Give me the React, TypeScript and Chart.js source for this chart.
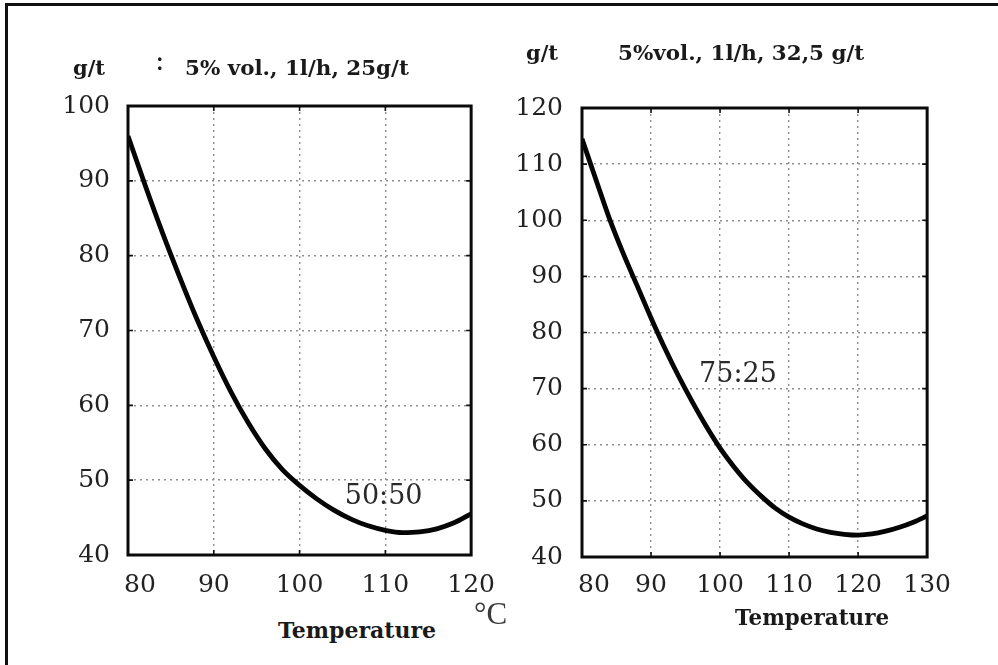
import React, { useEffect, useRef } from "react";
import { Chart, registerables } from "chart.js";

Chart.register(...registerables);

// ---- data ----
const leftTemps = [80, 82, 84, 86, 88, 90, 92, 94, 96, 98, 100, 102, 104, 106, 108, 110, 112, 114, 116, 118, 120];
const leftValues = [96, 89.4, 83.1, 77.2, 71.6, 66.5, 61.8, 57.7, 54.2, 51.4, 49.3, 47.5, 46, 44.8, 43.9, 43.3, 43, 43.1, 43.5, 44.3, 45.5];
const rightTemps = [80, 82, 84, 86, 88, 90, 92, 94, 96, 98, 100, 102, 104, 106, 108, 110, 112, 114, 116, 118, 120, 122, 124, 126, 128, 130];
const rightValues = [114.5, 107.3, 100.2, 94, 88.3, 82.6, 77.2, 72.2, 67.6, 63.3, 59.4, 56.1, 53.2, 50.8, 48.7, 47.1, 45.9, 45, 44.4, 44.05, 43.9, 44.1, 44.6, 45.3, 46.2, 47.3];
const leftXTicks = [80, 90, 100, 110, 120];
const leftYTicks = [40, 50, 60, 70, 80, 90, 100];
const rightXTicks = [80, 90, 100, 110, 120, 130];
const rightYTicks = [40, 50, 60, 70, 80, 90, 100, 110, 120];
const leftRatio = "50:50";
const rightRatio = "75:25";
const leftRatioAt = { x: 109.8, y: 47.8 };
const rightRatioAt = { x: 102.6, y: 72.5 };
const unitLabel = "g/t";
const leftTitle = "5% vol., 1l/h, 25g/t";
const rightTitle = "5%vol., 1l/h, 32,5 g/t";
const axisTitle = "Temperature";
const degLabel = "°C";

type Cfg = {
  temps: number[];
  values: number[];
  xTicks: number[];
  yTicks: number[];
  ratio: string;
  ratioAt: { x: number; y: number };
  yWidth: number;
  xHeight: number;
  padTop: number;
  padRight: number;
  yPad: number;
  xPad: number;
};

function makeChart(canvas: HTMLCanvasElement, c: Cfg) {
  const frame = {
    id: "frame",
    afterDraw(chart: any) {
      const { ctx, chartArea: a, scales } = chart;
      ctx.save();
      ctx.strokeStyle = "#111";
      ctx.lineWidth = 1.6;
      ctx.beginPath();
      for (const v of c.xTicks) {
        const px = scales.x.getPixelForValue(v);
        ctx.moveTo(px, a.top);
        ctx.lineTo(px, a.top + 5);
        ctx.moveTo(px, a.bottom);
        ctx.lineTo(px, a.bottom - 5);
      }
      for (const v of c.yTicks) {
        const py = scales.y.getPixelForValue(v);
        ctx.moveTo(a.left, py);
        ctx.lineTo(a.left + 5, py);
        ctx.moveTo(a.right, py);
        ctx.lineTo(a.right - 5, py);
      }
      ctx.stroke();
      ctx.lineWidth = 3;
      ctx.strokeStyle = "#0a0a0a";
      ctx.strokeRect(a.left, a.top, a.right - a.left, a.bottom - a.top);
      ctx.restore();
    },
    afterDatasetsDraw(chart: any) {
      const { ctx, scales } = chart;
      ctx.save();
      ctx.font = "27px 'DejaVu Serif'";
      ctx.fillStyle = "#2a2a2a";
      ctx.textAlign = "center";
      ctx.textBaseline = "middle";
      ctx.fillText(c.ratio, scales.x.getPixelForValue(c.ratioAt.x), scales.y.getPixelForValue(c.ratioAt.y));
      ctx.restore();
    },
  };

  const tickFont = { family: "'DejaVu Serif'", size: 25 };
  return new Chart(canvas, {
    type: "line",
    data: {
      datasets: [
        {
          data: c.temps.map((t, i) => ({ x: t, y: c.values[i] })),
          borderColor: "#050505",
          borderWidth: 4.8,
          pointRadius: 0,
          cubicInterpolationMode: "monotone",
          fill: false,
        },
      ],
    },
    options: {
      animation: false,
      responsive: false,
      devicePixelRatio: 1,
      layout: { padding: { top: c.padTop, right: c.padRight, left: 0, bottom: 0 } },
      plugins: { legend: { display: false }, tooltip: { enabled: false } },
      scales: {
        x: {
          type: "linear",
          min: c.xTicks[0],
          max: c.xTicks[c.xTicks.length - 1],
          afterBuildTicks: (s: any) => {
            s.ticks = c.xTicks.map((v) => ({ value: v }));
          },
          afterFit: (s: any) => {
            s.height = c.xHeight;
          },
          ticks: {
            font: tickFont,
            color: "#222",
            padding: c.xPad,
            maxRotation: 0,
            autoSkip: false,
            callback: (v: any) => (v === c.xTicks[0] ? "   " + v : String(v)),
          },
          grid: { color: "#8f8f8f", lineWidth: 1.4, drawTicks: false },
          border: { display: false, dash: [2, 4] },
        },
        y: {
          type: "linear",
          min: c.yTicks[0],
          max: c.yTicks[c.yTicks.length - 1],
          afterBuildTicks: (s: any) => {
            s.ticks = c.yTicks.map((v) => ({ value: v }));
          },
          afterFit: (s: any) => {
            s.width = c.yWidth;
          },
          ticks: { font: tickFont, color: "#222", padding: c.yPad, autoSkip: false },
          grid: { color: "#8f8f8f", lineWidth: 1.4, drawTicks: false },
          border: { display: false, dash: [2, 4] },
        },
      },
    },
    plugins: [frame],
  } as any);
}

const bold: React.CSSProperties = {
  position: "absolute",
  fontFamily: "'DejaVu Serif', serif",
  fontWeight: 700,
  fontSize: 21,
  lineHeight: "21px",
  color: "#1a1a1a",
  whiteSpace: "nowrap",
  transformOrigin: "left top",
};

export default function App() {
  const leftRef = useRef<HTMLCanvasElement>(null);
  const rightRef = useRef<HTMLCanvasElement>(null);

  useEffect(() => {
    const l = makeChart(leftRef.current!, {
      temps: leftTemps,
      values: leftValues,
      xTicks: leftXTicks,
      yTicks: leftYTicks,
      ratio: leftRatio,
      ratioAt: leftRatioAt,
      yWidth: 98,
      xHeight: 55,
      padTop: 16,
      padRight: 30,
      yPad: 18,
      xPad: 15,
    });
    const r = makeChart(rightRef.current!, {
      temps: rightTemps,
      values: rightValues,
      xTicks: rightXTicks,
      yTicks: rightYTicks,
      ratio: rightRatio,
      ratioAt: rightRatioAt,
      yWidth: 82,
      xHeight: 52,
      padTop: 18,
      padRight: 34,
      yPad: 19,
      xPad: 13,
    });
    return () => {
      l.destroy();
      r.destroy();
    };
  }, []);

  return (
    <div style={{ position: "fixed", left: 0, top: 0, width: 998, height: 665, background: "#fff", overflow: "hidden" }}>
      <div style={{ position: "absolute", left: 5, top: 3, width: 1100, height: 700, borderLeft: "3px solid #111", borderTop: "3px solid #111" }} />
      <canvas ref={leftRef} width={480} height={537} style={{ position: "absolute", left: 30, top: 73 }} />
      <canvas ref={rightRef} width={464} height={535} style={{ position: "absolute", left: 500, top: 74 }} />
      <div style={{ ...bold, left: 73, top: 57 }}>{unitLabel}</div>
      <div style={{ ...bold, left: 155, top: 47, fontSize: 28, lineHeight: "28px", fontWeight: 400 }}>:</div>
      <div style={{ ...bold, left: 185, top: 57, transform: "scaleX(1.02)" }}>{leftTitle}</div>
      <div style={{ ...bold, left: 526, top: 42 }}>{unitLabel}</div>
      <div style={{ ...bold, left: 618, top: 42, transform: "scaleX(1.02)" }}>{rightTitle}</div>
      <div style={{ ...bold, left: 278, top: 619, fontSize: 22, lineHeight: "22px" }}>{axisTitle}</div>
      <div style={{ ...bold, left: 735, top: 606, fontSize: 22, lineHeight: "22px", transform: "scaleX(0.975)" }}>{axisTitle}</div>
      <div
        style={{
          position: "absolute",
          left: 474,
          top: 598,
          fontFamily: "'Liberation Serif', serif",
          fontSize: 31,
          lineHeight: "31px",
          color: "#3a3a3a",
        }}
      >
        {degLabel}
      </div>
    </div>
  );
}
